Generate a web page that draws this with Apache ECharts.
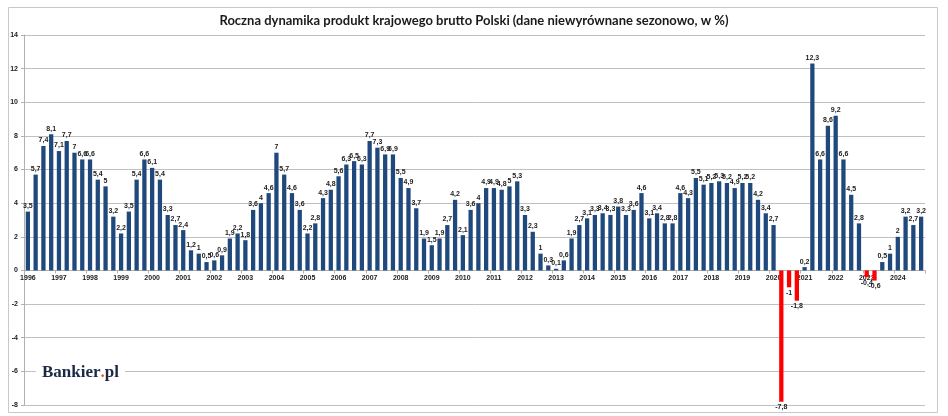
<!DOCTYPE html>
<html>
<head>
<meta charset="utf-8">
<script src="https://cdn.jsdelivr.net/npm/echarts@6/dist/echarts.min.js"></script>
<style>
  html, body { margin: 0; padding: 0; background: #fff; }
  #chart { width: 948px; height: 416px; }
</style>
</head>
<body>
<div id="chart"></div>
<script>
// lata i kwartalne dynamiki PKB r/r (%)
const years = [1996, 1997, 1998, 1999, 2000, 2001, 2002, 2003, 2004, 2005,
  2006, 2007, 2008, 2009, 2010, 2011, 2012, 2013, 2014, 2015,
  2016, 2017, 2018, 2019, 2020, 2021, 2022, 2023, 2024];
const quarters = ['Q1', 'Q2', 'Q3', 'Q4'];
const gdpGrowth = [
  3.5, 5.7, 7.4, 8.1,
  7.1, 7.7, 7, 6.6,
  6.6, 5.4, 5, 3.2,
  2.2, 3.5, 5.4, 6.6,
  6.1, 5.4, 3.3, 2.7,
  2.4, 1.2, 1, 0.5,
  0.6, 0.9, 1.9, 2.2,
  1.8, 3.6, 4, 4.6,
  7, 5.7, 4.6, 3.6,
  2.2, 2.8, 4.3, 4.8,
  5.6, 6.3, 6.5, 6.3,
  7.7, 7.3, 6.9, 6.9,
  5.5, 4.9, 3.7, 1.9,
  1.5, 1.9, 2.7, 4.2,
  2.1, 3.6, 4, 4.9,
  4.9, 4.8, 5, 5.3,
  3.3, 2.3, 1, 0.3,
  0.1, 0.6, 1.9, 2.7,
  3.1, 3.3, 3.4, 3.3,
  3.8, 3.3, 3.6, 4.6,
  3.1, 3.4, 2.8, 2.8,
  4.6, 4.3, 5.5, 5.1,
  5.2, 5.3, 5.2, 4.9,
  5.2, 5.2, 4.2, 3.4,
  2.7, -7.8, -1, -1.8,
  0.2, 12.3, 6.6, 8.6,
  9.2, 6.6, 4.5, 2.8,
  -0.4, -0.6, 0.5, 1,
  2, 3.2, 2.7, 3.2
];
const yMin = -8;
const yMax = 14;
const yStep = 2;

const categories = [];
years.forEach(y => quarters.forEach(q => categories.push(y + ' ' + q)));

const fmt = v => String(v).replace('.', ',');

const W = 948, H = 416;
const gridTop = 35, gridBottom = 11;
// odległość linii zera od dołu siatki – tam rysujemy oś kategorii
const zeroOffset = (H - gridTop - gridBottom) * (0 - yMin) / (yMax - yMin);

const chart = echarts.init(document.getElementById('chart'));
const option = {
  animation: false,
  title: {
    text: 'Roczna dynamika produkt krajowego brutto Polski (dane niewyrównane sezonowo, w %)',
    left: 'center',
    top: 9,
    textStyle: {
      fontFamily: 'Lato',
      fontSize: 13,
      fontWeight: 'bold',
      color: '#1a1a1a'
    }
  },
  graphic: [
    {
      type: 'rect',
      left: 6,
      top: 5,
      shape: { width: 929, height: 405 },
      style: { fill: 'none', stroke: '#c8c8c8', lineWidth: 1 },
      silent: true
    },
    {
      type: 'text',
      left: 36,
      top: 362,
      z: 100,
      style: {
        text: '{a|Bankier}{b|.}{a|pl}',
        backgroundColor: '#fff',
        padding: [2, 6, 2, 6],
        rich: {
          a: { fontFamily: 'Liberation Serif', fontWeight: 'bold', fontSize: 17, fill: '#1b2846' },
          b: { fontFamily: 'Liberation Serif', fontWeight: 'bold', fontSize: 17, fill: '#e8561e' }
        }
      }
    }
  ],
  grid: {
    left: 24,
    right: 23,
    top: gridTop,
    bottom: gridBottom
  },
  xAxis: {
    type: 'category',
    data: categories,
    position: 'bottom',
    offset: -zeroOffset,
    axisLine: { onZero: false, lineStyle: { color: '#b0b0b0' } },
    axisTick: { show: true, interval: 3, length: 3, lineStyle: { color: '#b0b0b0' } },
    axisLabel: {
      interval: 3,
      margin: 4,
      fontSize: 7,
      fontWeight: 'bold',
      fontFamily: 'Liberation Sans',
      color: '#222',
      formatter: v => v.split(' ')[0]
    },
    splitLine: { show: false }
  },
  yAxis: {
    type: 'value',
    min: yMin,
    max: yMax,
    interval: yStep,
    axisLine: { show: true, lineStyle: { color: '#b0b0b0' } },
    axisTick: { show: true, length: 3, lineStyle: { color: '#b0b0b0' } },
    axisLabel: {
      margin: 6,
      fontSize: 7,
      fontWeight: 'bold',
      fontFamily: 'Liberation Sans',
      color: '#222'
    },
    splitLine: { lineStyle: { color: '#c0c0c0', width: 1 } }
  },
  series: [
    {
      type: 'bar',
      barWidth: '55%',
      data: gdpGrowth.map(v => ({
        value: v,
        itemStyle: { color: v < 0 ? '#ff0000' : '#1f497d' },
        label: { position: v < 0 ? 'bottom' : 'top' }
      })),
      label: {
        show: true,
        distance: 2,
        fontSize: 7,
        fontWeight: 'bold',
        fontFamily: 'Liberation Sans',
        color: '#222',
        formatter: p => fmt(p.value)
      }
    }
  ]
};
chart.setOption(option);
</script>
</body>
</html>
